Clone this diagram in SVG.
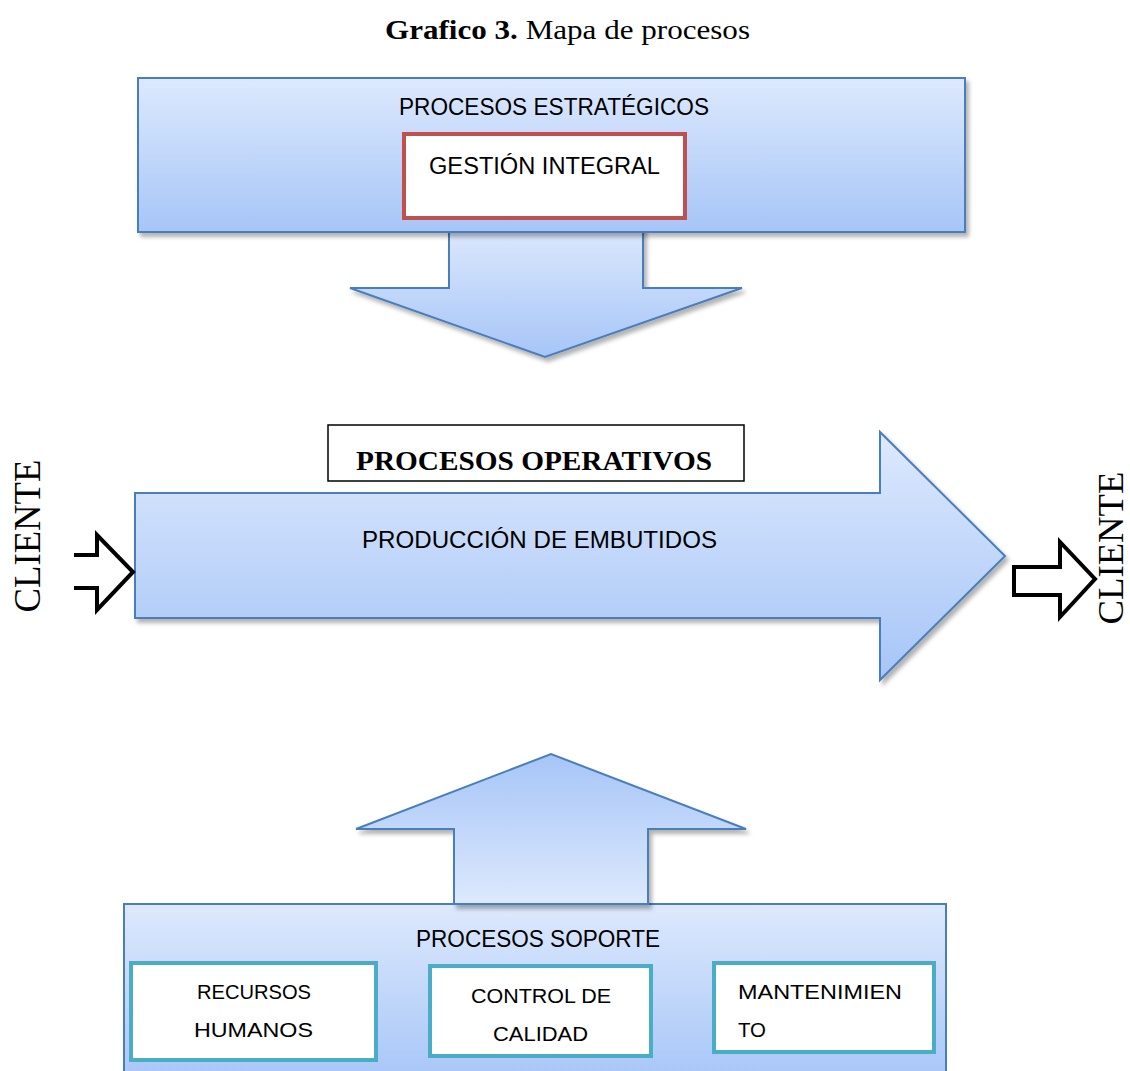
<svg xmlns="http://www.w3.org/2000/svg" width="1130" height="1071" viewBox="0 0 1130 1071">
<defs>
<linearGradient id="gDown" x1="0" y1="0" x2="0" y2="1">
<stop offset="0" stop-color="#DDE9FD"/>
<stop offset="1" stop-color="#A6C5F7"/>
</linearGradient>
<linearGradient id="gUp" x1="0" y1="0" x2="0" y2="1">
<stop offset="0" stop-color="#A6C5F7"/>
<stop offset="1" stop-color="#DDE9FD"/>
</linearGradient>
<filter id="sh" x="-10%" y="-10%" width="130%" height="130%">
<feDropShadow dx="3" dy="4" stdDeviation="2" flood-color="#000" flood-opacity="0.3"/>
</filter>
</defs>
<style>
.blue{stroke:#4A7EBB;stroke-width:2;stroke-linejoin:miter}
.sans{font-family:"Liberation Sans",Arial,sans-serif;fill:#000}
.serif{font-family:"Liberation Serif","Times New Roman",serif;fill:#000}
.red{fill:#fff;stroke:#C0504D;stroke-width:4}
.teal{fill:#fff;stroke:#4BACC6;stroke-width:4}
.outl{fill:#fff;stroke:#000;stroke-width:4;stroke-linejoin:miter}
</style>
<rect width="1130" height="1071" fill="#fff"/>

<text id="title" class="serif" x="385" y="39" font-size="28" textLength="365" lengthAdjust="spacingAndGlyphs"><tspan font-weight="bold">Grafico 3.</tspan> Mapa de procesos</text>

<g id="connectors">
<path id="arrow-down" class="blue" fill="url(#gDown)" filter="url(#sh)" d="M449,225 H643 V288 H742 L545,357 L350,288 H449 Z"/>
</g>

<g id="estrategicos">
<rect class="blue" fill="url(#gDown)" filter="url(#sh)" x="138" y="78" width="827" height="154"/>
<text class="sans" x="399" y="115" font-size="24" textLength="310" lengthAdjust="spacingAndGlyphs">PROCESOS ESTRATÉGICOS</text>
</g>
<g id="gestion">
<rect class="red" x="404" y="134" width="281" height="84"/>
<text class="sans" x="429" y="174" font-size="23" textLength="231" lengthAdjust="spacingAndGlyphs">GESTIÓN INTEGRAL</text>
</g>

<g id="operativos-label">
<rect x="328" y="425" width="416" height="56" fill="#fff" stroke="#000" stroke-width="1.5"/>
<text class="serif" x="356" y="470" font-size="27" font-weight="bold" textLength="356" lengthAdjust="spacingAndGlyphs">PROCESOS OPERATIVOS</text>
</g>

<g id="produccion">
<path class="blue" fill="url(#gDown)" filter="url(#sh)" d="M135,493 H880 V432 L1005,556 L880,680 V618 H135 Z"/>
<text class="sans" x="362" y="548" font-size="24" textLength="355" lengthAdjust="spacingAndGlyphs">PRODUCCIÓN DE EMBUTIDOS</text>
</g>

<g id="cliente-in">
<text class="serif" transform="translate(40,536) rotate(-90)" x="0" y="0" text-anchor="middle" font-size="38" textLength="153" lengthAdjust="spacingAndGlyphs">CLIENTE</text>
<path class="outl" fill="none" d="M74,555 H97 V535 L133,572 L97,610 V588 H74"/>
</g>

<g id="cliente-out">
<path class="outl" d="M1014,567 H1060 V542 L1095,579 L1060,617 V595 H1014 Z"/>
<text class="serif" transform="translate(1123,548) rotate(-90)" x="0" y="0" text-anchor="middle" font-size="36" textLength="153" lengthAdjust="spacingAndGlyphs">CLIENTE</text>
</g>

<g id="soporte">
<rect class="blue" fill="url(#gDown)" x="124" y="904" width="822" height="180"/>
<text class="sans" x="416" y="947" font-size="23" textLength="244" lengthAdjust="spacingAndGlyphs">PROCESOS SOPORTE</text>
</g>

<g id="connectors-up">
<path id="arrow-up" class="blue" fill="url(#gUp)" filter="url(#sh)" d="M454,904 V829 H356 L551,754 L746,829 H648 V904 Z"/>
</g>

<g id="rrhh">
<rect class="teal" x="131" y="963" width="245" height="97"/>
<text class="sans" x="197" y="999" font-size="21" textLength="114" lengthAdjust="spacingAndGlyphs">RECURSOS</text>
<text class="sans" x="194" y="1037" font-size="21" textLength="119" lengthAdjust="spacingAndGlyphs">HUMANOS</text>
</g>
<g id="calidad">
<rect class="teal" x="430" y="966" width="221" height="90"/>
<text class="sans" x="471" y="1003" font-size="21" textLength="140" lengthAdjust="spacingAndGlyphs">CONTROL DE</text>
<text class="sans" x="493" y="1041" font-size="21" textLength="95" lengthAdjust="spacingAndGlyphs">CALIDAD</text>
</g>
<g id="mantenimiento">
<rect class="teal" x="714" y="963" width="220" height="89"/>
<text class="sans" x="738" y="999" font-size="21" textLength="164" lengthAdjust="spacingAndGlyphs">MANTENIMIEN</text>
<text class="sans" x="738" y="1037" font-size="21" textLength="28" lengthAdjust="spacingAndGlyphs">TO</text>
</g>
</svg>
